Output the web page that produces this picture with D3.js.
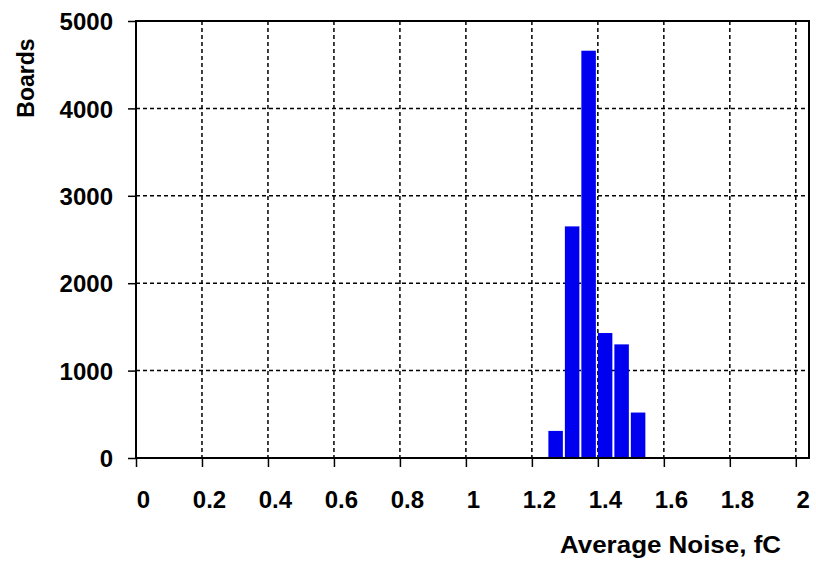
<!DOCTYPE html>
<html>
<head>
<meta charset="utf-8">
<script src="https://cdn.jsdelivr.net/npm/d3@7"></script>
<style>
    body { margin: 0; background: #fff; }
    text { font-family: "Liberation Sans", Arial, sans-serif; font-weight: bold; fill: #000; }
</style>
</head>
<body>
<div id="chart"></div>
<script>
// histogram bins (lower edge, fC) and board counts
const binStarts = [1.25, 1.30, 1.35, 1.40, 1.45, 1.50];
const binWidth = 0.05;
const boards = [310, 2650, 4660, 1430, 1300, 520];

const xTicks = [0, 0.2, 0.4, 0.6, 0.8, 1, 1.2, 1.4, 1.6, 1.8, 2];
const yTicks = [0, 1000, 2000, 3000, 4000, 5000];

const W = 816, H = 561;
const plot = {left: 136, top: 21, right: 809, bottom: 458};

const svg = d3.select("#chart").append("svg")
    .attr("width", W)
    .attr("height", H);

const x = d3.scaleLinear().domain([0, 2.04]).range([plot.left, plot.right]);
const y = d3.scaleLinear().domain([0, 5000]).range([plot.bottom, plot.top]);

// grid lines
svg.append("g").selectAll("line")
    .data(xTicks.filter(d => d > 0))
    .enter().append("line")
    .attr("x1", d => x(d)).attr("x2", d => x(d))
    .attr("y1", plot.top).attr("y2", plot.bottom)
    .attr("stroke", "#000")
    .attr("stroke-width", 1.5)
    .attr("stroke-dasharray", "4,3");

svg.append("g").selectAll("line")
    .data(yTicks.filter(d => d > 0 && d < 5000))
    .enter().append("line")
    .attr("x1", plot.left).attr("x2", plot.right)
    .attr("y1", d => y(d)).attr("y2", d => y(d))
    .attr("stroke", "#000")
    .attr("stroke-width", 1.5)
    .attr("stroke-dasharray", "4,3");

// bars
svg.append("g").selectAll("rect")
    .data(boards)
    .enter().append("rect")
    .attr("x", (d, i) => x(binStarts[i]))
    .attr("width", (d, i) => x(binStarts[i] + binWidth) - x(binStarts[i]) - 2)
    .attr("y", d => y(d))
    .attr("height", d => y(0) - y(d))
    .attr("fill", "#0000f0");

// frame
svg.append("rect")
    .attr("x", plot.left).attr("y", plot.top)
    .attr("width", plot.right - plot.left)
    .attr("height", plot.bottom - plot.top)
    .attr("fill", "none")
    .attr("stroke", "#000")
    .attr("stroke-width", 2);

// axes
const xAxis = svg.append("g")
    .attr("transform", `translate(0,${plot.bottom})`)
    .call(d3.axisBottom(x).tickValues(xTicks).tickSize(9).tickFormat(d3.format("~g")));
xAxis.select(".domain").remove();
xAxis.selectAll("line").attr("stroke-width", 1.5);
xAxis.selectAll("text")
    .attr("font-size", 24)
    .attr("font-family", "'Liberation Sans', Arial, sans-serif")
    .attr("dx", 7)
    .attr("y", 50)
    .attr("dy", 0);

const yAxis = svg.append("g")
    .attr("transform", `translate(${plot.left},0)`)
    .call(d3.axisLeft(y).tickValues(yTicks).tickSize(8).tickPadding(15).tickFormat(d3.format("d")));
yAxis.select(".domain").remove();
yAxis.selectAll("line").attr("stroke-width", 1.5);
yAxis.selectAll("text")
    .attr("font-size", 24)
    .attr("font-family", "'Liberation Sans', Arial, sans-serif")
    .attr("dy", "0.36em");

// axis titles
svg.append("text")
    .attr("x", 781).attr("y", 553)
    .attr("text-anchor", "end")
    .attr("font-size", 23)
    .attr("textLength", 221)
    .attr("lengthAdjust", "spacingAndGlyphs")
    .text("Average Noise, fC");

svg.append("text")
    .attr("transform", "translate(34,78) rotate(-90)")
    .attr("text-anchor", "middle")
    .attr("font-size", 23)
    .text("Boards");
</script>
</body>
</html>
